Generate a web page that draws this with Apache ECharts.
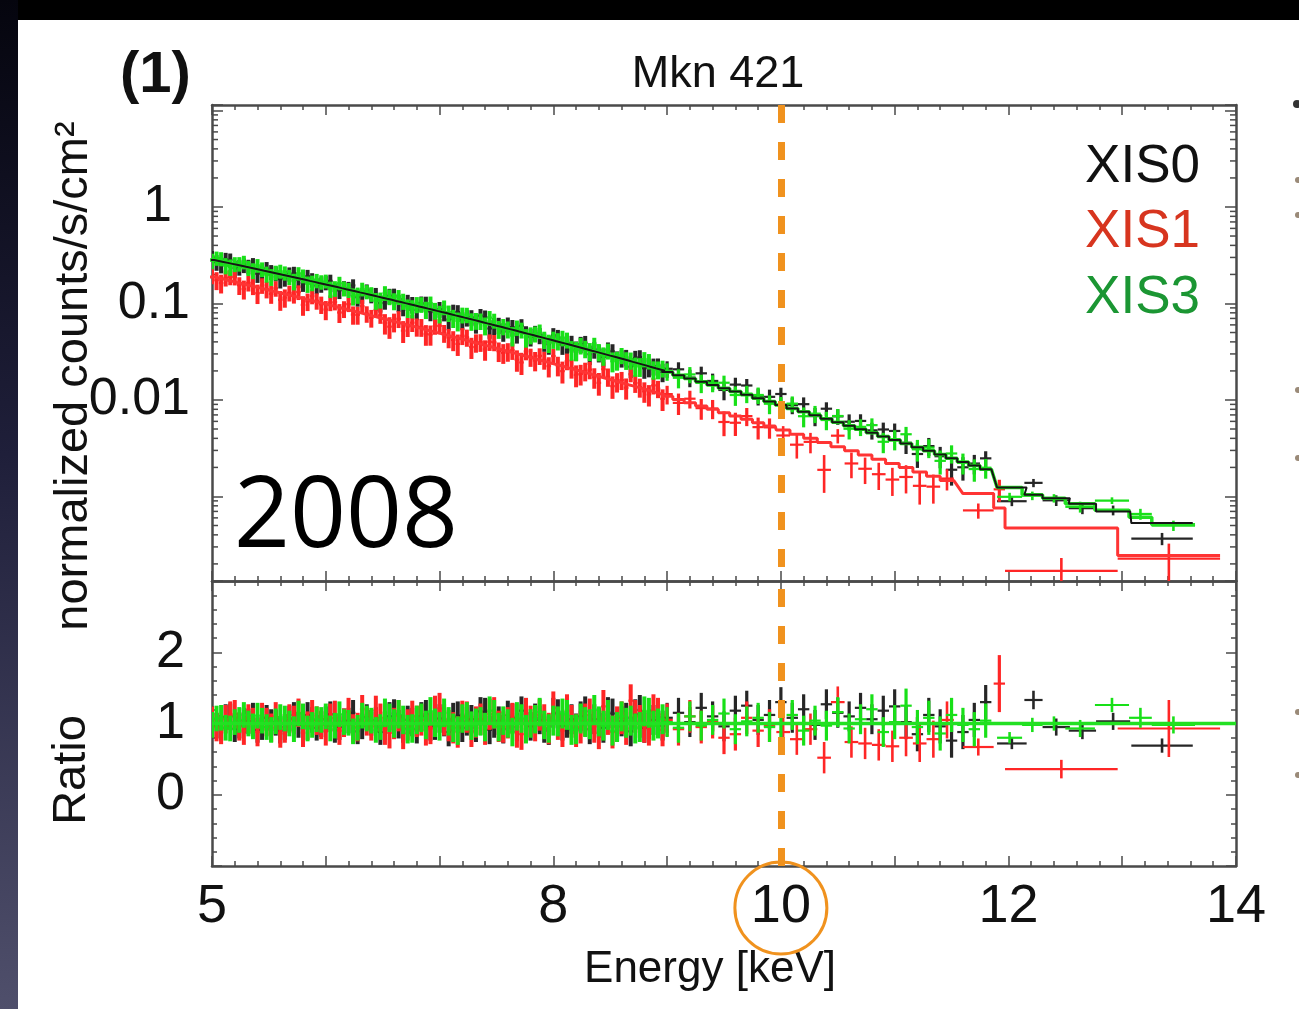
<!DOCTYPE html>
<html><head><meta charset="utf-8">
<script src="https://cdn.jsdelivr.net/npm/echarts@6/dist/echarts.min.js"></script>
<style>html,body{margin:0;padding:0;background:#fff;overflow:hidden}#c{width:1299px;height:1009px}</style>
</head><body><div id="c"></div>
<script>
// ---------------- axes & tick labels ----------------
const energyMin = 5, energyMax = 14;
const energyTickLabels = [5, 8, 10, 12, 14];
const countsMin = 1.33e-4, countsMax = 11.4;
const countsTickValues = [1, 0.1, 0.01];
const countsTickLabels = ['1', '0.1', '0.01'];
const ratioMin = -1, ratioMax = 3;
const ratioTickLabels = [0, 1, 2];
const ratioUnity = 1;
const markedEnergy = 10;

// ---------------- dense low-energy bins, set A ----------------
const energyDenseA = [5.00,5.08,5.16,5.24,5.32,5.40,5.48,5.56,5.64,5.72,
  5.80,5.88,5.96,6.04,6.12,6.20,6.28,6.36,6.44,6.52,
  6.60,6.68,6.76,6.84,6.92,7.00,7.08,7.16,7.24,7.32,
  7.40,7.48,7.56,7.64,7.72,7.80,7.88,7.96,8.04,8.12,
  8.20,8.28,8.36,8.44,8.52,8.60,8.68,8.76,8.84,8.92];
const modelXIS03DenseA = [0.2823,0.2697,0.2574,0.2457,0.2345,0.2237,0.2133,0.2034,0.1938,0.1846,
  0.1758,0.1674,0.1594,0.1517,0.1443,0.1372,0.1304,0.1240,0.1178,0.1119,
  0.1063,0.1009,0.0957,0.0908,0.0861,0.0816,0.0774,0.0733,0.0694,0.0658,
  0.0622,0.0589,0.0557,0.0527,0.0498,0.0471,0.0445,0.0420,0.0397,0.0375,
  0.0354,0.0334,0.0315,0.0297,0.0280,0.0264,0.0248,0.0234,0.0220,0.0207];
const modelXIS1DenseA = [0.1882,0.1788,0.1697,0.1611,0.1529,0.1451,0.1376,0.1305,0.1238,0.1173,
  0.1112,0.1054,0.0998,0.0946,0.0896,0.0848,0.0803,0.0760,0.0719,0.0680,
  0.0643,0.0608,0.0575,0.0543,0.0514,0.0485,0.0458,0.0433,0.0409,0.0386,
  0.0364,0.0344,0.0324,0.0306,0.0288,0.0272,0.0256,0.0241,0.0228,0.0214,
  0.0202,0.0190,0.0179,0.0168,0.0158,0.0149,0.0140,0.0132,0.0124,0.0116];
const ratioXIS0DenseA = [1.06,0.94,1.10,0.97,1.03,0.91,1.08,1.01,0.95,1.12,
  0.93,1.05,0.99,1.13,0.95,1.04,0.89,1.09,1.05,0.97,
  1.14,0.93,1.02,1.10,0.96,1.07,0.88,1.11,1.03,0.94,
  1.16,1.00,0.92,1.08,1.18,0.96,1.05,0.90,1.13,1.01,
  0.93,1.17,1.06,0.94,1.14,1.03,0.89,1.19,0.99,1.09];
const ratioXIS1DenseA = [1.04,0.91,1.11,0.96,1.07,0.88,1.02,1.10,0.93,1.05,
  0.87,1.13,0.98,1.08,0.90,1.16,0.95,1.03,1.19,0.92,
  1.00,0.86,1.10,1.05,0.93,1.21,0.97,0.88,1.09,1.02,
  0.92,1.15,0.95,1.07,0.85,1.03,1.12,0.93,1.00,1.18,
  0.90,1.05,0.96,1.24,0.88,1.08,1.32,1.03,0.92,1.13];
const ratioXIS3DenseA = [0.98,1.08,0.93,1.05,1.00,1.11,0.95,1.03,1.07,0.92,
  1.10,0.98,1.05,0.93,1.13,1.01,0.94,1.07,0.91,1.15,
  1.00,1.05,0.93,1.08,1.17,0.96,1.03,0.90,1.10,1.01,
  0.95,1.13,1.04,0.88,1.07,1.00,1.16,0.93,1.03,1.12,
  0.92,1.02,1.19,0.97,0.90,1.10,1.04,0.95,1.15,1.00];

// ---------------- dense low-energy bins, set B ----------------
const energyDenseB = [5.04,5.12,5.20,5.28,5.36,5.44,5.52,5.60,5.68,5.76,
  5.84,5.92,6.00,6.08,6.16,6.24,6.32,6.40,6.48,6.56,
  6.64,6.72,6.80,6.88,6.96,7.04,7.12,7.20,7.28,7.36,
  7.44,7.52,7.60,7.68,7.76,7.84,7.92,8.00,8.08,8.16,
  8.24,8.32,8.40,8.48,8.56,8.64,8.72,8.80,8.88,8.96];
const modelXIS03DenseB = [0.2759,0.2635,0.2515,0.2400,0.2290,0.2184,0.2083,0.1985,0.1891,0.1801,
  0.1715,0.1633,0.1555,0.1480,0.1407,0.1338,0.1272,0.1209,0.1148,0.1091,
  0.1036,0.0983,0.0932,0.0884,0.0838,0.0795,0.0753,0.0713,0.0676,0.0640,
  0.0605,0.0573,0.0542,0.0512,0.0484,0.0458,0.0432,0.0408,0.0386,0.0364,
  0.0344,0.0324,0.0306,0.0288,0.0272,0.0256,0.0241,0.0227,0.0213,0.0201];
const modelXIS1DenseB = [0.1834,0.1742,0.1653,0.1569,0.1489,0.1413,0.1340,0.1271,0.1205,0.1142,
  0.1083,0.1026,0.0972,0.0921,0.0872,0.0825,0.0781,0.0739,0.0699,0.0661,
  0.0625,0.0591,0.0559,0.0528,0.0499,0.0471,0.0445,0.0421,0.0397,0.0375,
  0.0354,0.0334,0.0315,0.0297,0.0280,0.0264,0.0248,0.0234,0.0221,0.0208,
  0.0196,0.0184,0.0173,0.0163,0.0153,0.0144,0.0136,0.0128,0.0120,0.0113];
const ratioXIS0DenseB = [0.97,1.09,0.92,1.04,1.11,0.95,1.02,0.90,1.07,0.98,
  1.12,0.94,1.06,0.91,1.03,1.15,0.96,1.01,0.88,1.10,
  0.99,1.05,0.92,1.13,0.97,1.02,1.09,0.94,1.06,1.17,
  0.91,1.04,1.12,0.95,1.00,1.08,0.93,1.15,0.97,1.06,
  1.10,0.92,1.01,1.16,0.96,1.08,1.13,0.94,1.05,0.97];
const ratioXIS1DenseB = [0.95,1.06,1.13,0.90,1.02,1.09,0.94,0.86,1.07,1.15,
  0.97,1.04,0.89,1.12,1.01,0.93,1.20,0.96,1.08,0.87,
  1.11,0.98,1.03,0.91,1.17,1.05,0.94,1.10,0.89,1.06,
  1.13,0.96,1.01,0.88,1.14,0.97,1.05,1.22,0.90,1.03,
  0.95,1.12,0.87,1.07,1.01,0.93,1.10,0.96,1.18,0.91];
const ratioXIS3DenseB = [1.07,0.94,1.02,1.12,0.96,1.04,0.91,1.09,1.00,1.14,
  0.93,1.06,1.10,0.97,1.02,0.89,1.11,1.04,0.95,1.08,
  1.13,0.92,1.05,0.98,1.01,1.15,0.94,1.07,0.97,1.03,
  1.18,0.95,1.00,1.10,0.92,1.06,0.98,1.04,1.14,0.91,
  1.07,0.99,1.03,1.12,0.95,1.01,0.93,1.17,0.97,1.06];
const denseHalfWidth = 0.02;

// ---------------- mid-energy bins ----------------
const energyMidXIS03 = [9.0,9.1,9.2,9.3,9.4,9.5,9.6,9.7,9.8,9.9,10.0,10.1,10.2,10.3,10.4,
  10.5,10.6,10.7,10.8,10.9,11.0,11.1,11.2,11.3,11.4,11.5,11.6,11.7,11.8];
const midHalfWidthXIS03 = 0.05;
const modelXIS03Mid = [0.0195,0.01807,0.01673,0.01548,0.01431,0.01323,0.01223,0.01130,0.01043,0.00962,
  0.00887,0.00818,0.00754,0.00694,0.00639,0.00588,0.00541,0.00497,0.00457,0.00419,
  0.00385,0.00353,0.00324,0.00297,0.00272,0.00249,0.00228,0.00209,0.00191];
const ratioXIS0Mid = [1.08,1.15,1.02,1.22,1.10,0.96,1.18,1.25,1.05,1.12,1.30,1.08,1.20,0.98,1.27,
  1.15,1.10,1.22,1.06,1.18,1.24,1.02,0.85,1.12,0.96,0.76,0.88,1.05,1.30];
const ratioXIS3Mid = [1.02,0.94,1.10,0.97,1.05,1.14,0.92,1.03,1.08,0.95,1.00,1.12,0.90,1.04,0.97,
  1.16,0.93,1.06,1.20,0.88,1.02,1.25,0.95,1.08,0.86,1.12,0.98,0.92,1.04];

const energyMidXIS1 = [9.0,9.1,9.2,9.3,9.4,9.5,9.6,9.7,9.8,9.9,
  10.02,10.14,10.26,10.38,10.50,10.62,10.74,10.86,10.98,11.10,11.22,11.34,11.46];
const halfWidthMidXIS1 = [0.05,0.05,0.05,0.05,0.05,0.05,0.05,0.05,0.05,0.05,
  0.06,0.06,0.06,0.06,0.06,0.06,0.06,0.06,0.06,0.06,0.06,0.06,0.06];
const modelXIS1Mid = [0.01095,0.01013,0.00937,0.00866,0.00800,0.00739,0.00683,0.00630,0.00581,0.00536,
  0.00487,0.00441,0.00400,0.00363,0.00328,0.00297,0.00269,0.00243,0.00220,0.00199,0.00179,0.00162,0.00146];
const ratioXIS1Mid = [1.05,0.92,1.10,0.95,1.02,0.80,0.85,1.08,0.90,0.97,
  0.88,0.78,0.92,0.52,1.30,0.74,0.72,0.70,0.68,0.80,0.72,0.78,1.05];

// ratio error by energy band [from, to, +/-]
const errBandsXIS03 = [[5,6.5,0.18],[6.5,8,0.20],[8,9,0.21],[9,10,0.21],[10,11,0.21],[11,12,0.24]];
const errBandsXIS1 = [[5,6.5,0.20],[6.5,8,0.22],[8,9,0.23],[9,10,0.23],[10,11,0.22],[11,12,0.26]];

// ---------------- high-energy (wide) bins ----------------
const energyTailXIS0 = [12.03,12.22,12.42,12.65,12.92,13.35];
const halfWidthTailXIS0 = [0.13,0.08,0.12,0.12,0.15,0.27];
const modelTailXIS0 = [0.00124,0.00104,0.00096,0.00084,0.00070,0.00053];
const ratioTailXIS0 = [0.72,1.33,0.95,0.90,1.03,0.69];
const errTailXIS0 = [0.08,0.13,0.12,0.12,0.12,0.10];

const energyTailXIS3 = [12.01,12.21,12.40,12.63,12.91,13.16,13.45];
const halfWidthTailXIS3 = [0.11,0.09,0.10,0.13,0.15,0.10,0.19];
const modelTailXIS3 = [0.00124,0.00104,0.00096,0.00084,0.00072,0.00061,0.00051];
const ratioTailXIS3 = [0.80,0.98,1.00,0.93,1.26,1.08,0.98];
const errTailXIS3 = [0.08,0.10,0.10,0.12,0.10,0.14,0.12];

const energyTailXIS1 = [11.735,11.92,12.465,13.41];
const halfWidthTailXIS1 = [0.135,0.05,0.495,0.45];
const modelTailXIS1 = [0.00107,0.00076,0.00047,0.000244];
const ratioTailXIS1 = [0.67,1.56,0.36,0.93];
const errTailXIS1 = [0.12,0.40,0.13,0.40];

// ---------------- build ----------------
function bandErr(E, bands) {
  for (const b of bands) if (E >= b[0] && E < b[1]) return b[2];
  return bands[bands.length - 1][2];
}
function assemble(parts) {
  const spec = [], rat = [], bins = [];
  for (const p of parts) {
    for (let i = 0; i < p.E.length; i++) {
      const E = p.E[i];
      const hw = Array.isArray(p.hw) ? p.hw[i] : p.hw;
      const m = p.model[i], r = p.ratio[i];
      const e = p.err ? p.err[i] : bandErr(E, p.bands);
      const lo = Math.max(r - e, 1e-3);
      spec.push([E, m * r, m * lo, m * (r + e), hw]);
      rat.push([E, r, r - e, r + e, hw]);
      bins.push([E, hw, m]);
    }
  }
  bins.sort((a, b) => a[0] - b[0]);
  const line = [];
  for (const b of bins) line.push([b[0] - b[1], b[2]], [b[0] + b[1], b[2]]);
  return { spec, rat, line };
}
const xis0 = assemble([
  { E: energyDenseA, hw: denseHalfWidth, model: modelXIS03DenseA, ratio: ratioXIS0DenseA, bands: errBandsXIS03 },
  { E: energyDenseB, hw: denseHalfWidth, model: modelXIS03DenseB, ratio: ratioXIS0DenseB, bands: errBandsXIS03 },
  { E: energyMidXIS03, hw: midHalfWidthXIS03, model: modelXIS03Mid, ratio: ratioXIS0Mid, bands: errBandsXIS03 },
  { E: energyTailXIS0, hw: halfWidthTailXIS0, model: modelTailXIS0, ratio: ratioTailXIS0, err: errTailXIS0 }]);
const xis1 = assemble([
  { E: energyDenseA, hw: denseHalfWidth, model: modelXIS1DenseA, ratio: ratioXIS1DenseA, bands: errBandsXIS1 },
  { E: energyDenseB, hw: denseHalfWidth, model: modelXIS1DenseB, ratio: ratioXIS1DenseB, bands: errBandsXIS1 },
  { E: energyMidXIS1, hw: halfWidthMidXIS1, model: modelXIS1Mid, ratio: ratioXIS1Mid, bands: errBandsXIS1 },
  { E: energyTailXIS1, hw: halfWidthTailXIS1, model: modelTailXIS1, ratio: ratioTailXIS1, err: errTailXIS1 }]);
const xis3 = assemble([
  { E: energyDenseA, hw: denseHalfWidth, model: modelXIS03DenseA, ratio: ratioXIS3DenseA, bands: errBandsXIS03 },
  { E: energyDenseB, hw: denseHalfWidth, model: modelXIS03DenseB, ratio: ratioXIS3DenseB, bands: errBandsXIS03 },
  { E: energyMidXIS03, hw: midHalfWidthXIS03, model: modelXIS03Mid, ratio: ratioXIS3Mid, bands: errBandsXIS03 },
  { E: energyTailXIS3, hw: halfWidthTailXIS3, model: modelTailXIS3, ratio: ratioTailXIS3, err: errTailXIS3 }]);

// log minor tick positions (2..9 x decade)
const logMinorTicks = [];
for (let p = -4; p <= 1; p++) for (let m = 2; m <= 9; m++) {
  const v = m * Math.pow(10, p);
  if (v > countsMin && v < countsMax) logMinorTicks.push([energyMin, v]);
}

const COL = { x0: '#262626', x1: '#ff2626', x3: '#18e018' };
const FONT = '"Liberation Sans", Arial, Helvetica, sans-serif';
const FRAME = '#4a4a4a';

function crossSeries(name, data, xi, yi, color) {
  return {
    type: 'custom', name, data, xAxisIndex: xi, yAxisIndex: yi, clip: true,
    encode: { x: 0, y: 1 }, silent: true,
    renderItem: function (params, api) {
      const E = api.value(0), v = api.value(1), lo = api.value(2), hi = api.value(3), hw = api.value(4);
      const a = api.coord([E - hw, v]), b = api.coord([E + hw, v]);
      const c = api.coord([E, lo]), d = api.coord([E, hi]);
      const vw = hw < 0.03 ? 4 : (hw <= 0.05 ? 3.2 : 2.6);
      return { type: 'group', children: [
        { type: 'line', shape: { x1: a[0], y1: a[1], x2: b[0], y2: b[1] }, style: { stroke: color, lineWidth: 2.2 } },
        { type: 'line', shape: { x1: c[0], y1: c[1], x2: d[0], y2: d[1] }, style: { stroke: color, lineWidth: vw } }] };
    }
  };
}
function modelSeries(data, color, width, extra) {
  return Object.assign({ type: 'line', data, xAxisIndex: 0, yAxisIndex: 0, showSymbol: false, symbol: 'none',
    silent: true, lineStyle: { color, width } }, extra || {});
}
function orangeMark(offset) {
  return {
    silent: true, symbol: ['none', 'none'], label: { show: false }, animation: false,
    lineStyle: { color: '#f0921e', width: 7, type: [18, 19], dashOffset: offset, cap: 'butt', opacity: 1 },
    emphasis: { disabled: true },
    data: [{ xAxis: markedEnergy }]
  };
}

const tickStyle = { color: FRAME, width: 1.5 };
function xAx(grid, pos, labels) {
  return {
    type: 'value', gridIndex: grid, position: pos, min: energyMin, max: energyMax, interval: 1,
    axisLine: { show: true, onZero: false, lineStyle: { color: FRAME, width: 2.5 } },
    axisTick: { show: true, inside: true, length: 10, lineStyle: tickStyle },
    minorTick: { show: true, splitNumber: 5, length: 5, lineStyle: tickStyle },
    splitLine: { show: false }, minorSplitLine: { show: false },
    axisLabel: labels ? {
      show: true, margin: 14, fontSize: 54, fontFamily: FONT, color: '#111',
      formatter: v => energyTickLabels.includes(v) ? String(v) : ''
    } : { show: false }
  };
}
function logAx(pos, labels) {
  return {
    type: 'log', gridIndex: 0, position: pos, min: countsMin, max: countsMax, logBase: 10,
    axisLine: { show: true, onZero: false, lineStyle: { color: FRAME, width: 2.5 } },
    axisTick: { show: true, inside: true, length: 11, lineStyle: tickStyle },
    splitLine: { show: false },
    axisLabel: labels ? {
      show: true, margin: 22, fontSize: 52, fontFamily: FONT, color: '#111',
      formatter: v => {
        const lv = Math.log10(v), k = Math.round(lv);
        if (Math.abs(lv - k) > 1e-6) return '';
        const idx = countsTickValues.findIndex(t => Math.abs(Math.log10(t) - k) < 1e-6);
        if (idx < 0) return '';
        return countsTickLabels[idx] === '1' ? '{one|1}' : countsTickLabels[idx];
      },
      rich: { one: { fontSize: 52, fontFamily: FONT, color: '#111', padding: [0, 18, 0, 0] } }
    } : { show: false }
  };
}
function ratioAx(pos, labels) {
  return {
    type: 'value', gridIndex: 1, position: pos, min: ratioMin, max: ratioMax, interval: 1,
    axisLine: { show: true, onZero: false, lineStyle: { color: FRAME, width: 2.5 } },
    axisTick: { show: true, inside: true, length: 10, lineStyle: tickStyle },
    minorTick: { show: true, splitNumber: 5, length: 5, lineStyle: tickStyle },
    splitLine: { show: false }, minorSplitLine: { show: false },
    axisLabel: labels ? {
      show: true, margin: 27, fontSize: 52, fontFamily: FONT, color: '#111',
      formatter: v => ratioTickLabels.includes(v) ? String(v) : ''
    } : { show: false }
  };
}

const chart = echarts.init(document.getElementById('c'), null, { renderer: 'canvas' });
const option = {
  animation: false,
  backgroundColor: '#ffffff',
  grid: [
    { left: 212, top: 105, width: 1024, height: 476, outerBoundsMode: 'none', containLabel: false },
    { left: 212, top: 581, width: 1024, height: 285, outerBoundsMode: 'none', containLabel: false }
  ],
  xAxis: [xAx(0, 'bottom', false), xAx(0, 'top', false), xAx(1, 'bottom', true), xAx(1, 'top', false)],
  yAxis: [logAx('left', true), logAx('right', false), ratioAx('left', true), ratioAx('right', false)],
  series: [
    { type: 'custom', data: logMinorTicks, xAxisIndex: 0, yAxisIndex: 0, silent: true, encode: { x: 0, y: 1 },
      renderItem: function (params, api) {
        const v = api.value(1);
        const l = api.coord([energyMin, v]), r = api.coord([energyMax, v]);
        const st = { stroke: FRAME, lineWidth: 1.5 };
        return { type: 'group', children: [
          { type: 'line', shape: { x1: l[0], y1: l[1], x2: l[0] + 6, y2: l[1] }, style: st },
          { type: 'line', shape: { x1: r[0], y1: r[1], x2: r[0] - 6, y2: r[1] }, style: st }] };
      } },
    modelSeries(xis3.line, '#22e022', 3.5),
    modelSeries(xis1.line, '#ff3434', 3),
    modelSeries(xis0.line, '#151515', 2, { markLine: orangeMark(23) }),
    crossSeries('XIS0', xis0.spec, 0, 0, COL.x0),
    crossSeries('XIS1', xis1.spec, 0, 0, COL.x1),
    crossSeries('XIS3', xis3.spec, 0, 0, COL.x3),
    { type: 'line', xAxisIndex: 2, yAxisIndex: 2, showSymbol: false, symbol: 'none', silent: true,
      data: [[energyMin, ratioUnity], [energyMax, ratioUnity]], lineStyle: { color: '#22e022', width: 3.5 } },
    crossSeries('XIS0r', xis0.rat, 2, 2, COL.x0),
    crossSeries('XIS1r', xis1.rat, 2, 2, COL.x1),
    Object.assign(crossSeries('XIS3r', xis3.rat, 2, 2, COL.x3), { markLine: orangeMark(0) })
  ]
};
chart.setOption(option);

const cx = chart.convertToPixel({ xAxisIndex: 2 }, markedEnergy);
function txt(text, x, y, size, color, align, extra, weight) {
  return Object.assign({ type: 'text', x, y, z: 50, silent: true,
    style: { text, fill: color, font: (weight ? weight + ' ' : '') + size + 'px ' + FONT, textAlign: align, align: align,
      textVerticalAlign: 'middle', verticalAlign: 'middle' } }, extra || {});
}
chart.setOption({
  graphic: [
    { type: 'rect', z: 100, silent: true, shape: { x: 0, y: 0, width: 1299, height: 20 }, style: { fill: '#000' } },
    { type: 'rect', z: 100, silent: true, shape: { x: 0, y: 0, width: 18, height: 1009 },
      style: { fill: new echarts.graphic.LinearGradient(0, 0, 0, 1, [
        { offset: 0, color: '#05050e' }, { offset: 0.45, color: '#1f1f3a' }, { offset: 1, color: '#4f4f6b' }]) } },
    txt('(1)', 120, 76, 58, '#111', 'left', null, 'bold'),
    txt('Mkn 421', 718, 75, 45, '#111', 'center'),
    txt('normalized counts/s/cm\u00B2', 74, 376, 47, '#111', 'center', { rotation: Math.PI / 2 }),
    txt('Ratio', 72, 770, 47, '#111', 'center', { rotation: Math.PI / 2 }),
    txt('Energy [keV]', 710, 970, 44, '#111', 'center'),
    txt('XIS0', 1200, 167, 53, '#111', 'right'),
    txt('XIS1', 1200, 232, 53, '#d7351f', 'right'),
    txt('XIS3', 1200, 298, 53, '#1b9633', 'right'),
    { type: 'text', x: 234, y: 519, z: 50, silent: true,
      style: { text: '2008', fill: '#000', font: '98px "Open Sans", "Noto Sans", sans-serif',
        textAlign: 'left', align: 'left', textVerticalAlign: 'middle', verticalAlign: 'middle' } },
    { type: 'circle', z: 60, silent: true, shape: { cx: cx, cy: 908, r: 46 },
      style: { fill: 'none', stroke: '#f0921e', lineWidth: 3 } },
    { type: 'circle', z: 60, silent: true, shape: { cx: 1297, cy: 104, r: 4 }, style: { fill: '#333' } },
    { type: 'circle', z: 60, silent: true, shape: { cx: 1298, cy: 180, r: 3 }, style: { fill: '#9a8a78' } },
    { type: 'circle', z: 60, silent: true, shape: { cx: 1298, cy: 215, r: 3 }, style: { fill: '#9a8a78' } },
    { type: 'circle', z: 60, silent: true, shape: { cx: 1298, cy: 390, r: 3 }, style: { fill: '#9a8a78' } },
    { type: 'circle', z: 60, silent: true, shape: { cx: 1298, cy: 458, r: 3 }, style: { fill: '#9a8a78' } },
    { type: 'circle', z: 60, silent: true, shape: { cx: 1298, cy: 712, r: 3 }, style: { fill: '#9a8a78' } },
    { type: 'circle', z: 60, silent: true, shape: { cx: 1298, cy: 775, r: 3 }, style: { fill: '#9a8a78' } }
  ]
});
</script></body></html>
